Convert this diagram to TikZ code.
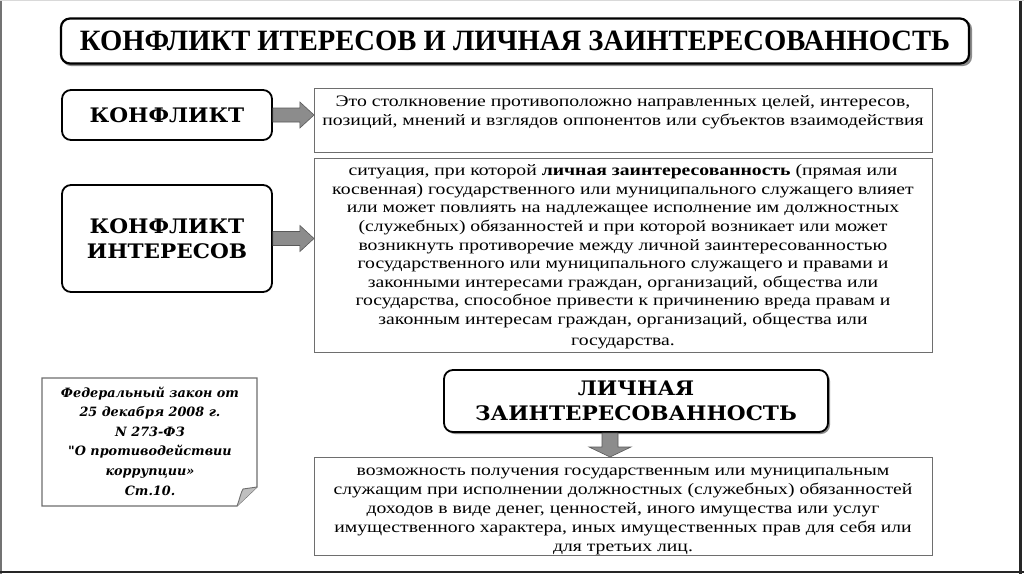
\documentclass[tikz,border=0pt]{standalone}
\usepackage{fontspec}
\setmainfont{Liberation Serif}
\newfontfamily\bodyf[FakeStretch=1.23]{Liberation Serif}
\newfontfamily\titlef[FakeStretch=0.97]{Liberation Serif}
\newfontfamily\labf[FakeStretch=1.08]{DejaVu Serif}
\newfontfamily\lawf{DejaVu Serif}
\usetikzlibrary{calc}
\definecolor{arrgray}{RGB}{140,140,140}
\definecolor{boxline}{RGB}{110,110,110}
\tikzset{
  x=1pt, y=-1pt,
  labelbox/.style={draw=black, line width=1.8pt, rounded corners=9pt, fill=white,
    align=center, inner sep=0pt, font=\labf\bfseries\fontsize{20}{25}\selectfont},
  textbox/.style={draw=boxline, line width=1.1pt, fill=white, align=center, inner sep=0pt,
    font=\bodyf\fontsize{16}{18.6}\selectfont},
  fatarrow/.style={fill=arrgray, draw=black!65, line width=0.6pt},
}
\begin{document}
\begin{tikzpicture}
\useasboundingbox (0,0) rectangle (1024,574);
\fill[white] (0,0) rectangle (1024,574);
% outer frame edges
\draw[black!55, line width=2pt] (1,0) -- (1,574);
\draw[black!85, line width=3pt] (1020,0) -- (1020,574);
\draw[black!85, line width=2.5pt] (0,572) -- (1024,572);
\draw[black!15, line width=1pt] (0,0.5) -- (1024,0.5);

% title
\fill[black!45, rounded corners=9pt] (62,20) rectangle (972,66);
\node[draw=black, line width=2.2pt, rounded corners=9pt, fill=white,
  minimum width=908pt, minimum height=45pt, inner sep=0pt,
  font=\titlef\bfseries\fontsize{29.5}{30}\selectfont] (title) at (515,41)
  {КОНФЛИКТ ИТЕРЕСОВ И ЛИЧНАЯ ЗАИНТЕРЕСОВАННОСТЬ};

% row 1
\node[labelbox, minimum width=210pt, minimum height=50pt] (k1) at (167,115) {КОНФЛИКТ};
\node[textbox, minimum width=618pt, minimum height=64pt, anchor=north west] (t1) at (314,88) {};
\node[textbox, anchor=north, draw=none, fill=none] (t1txt) at (623,95)
  {Это столкновение противоположно направленных целей, интересов,\\
   позиций, мнений и взглядов оппонентов или субъектов взаимодействия};

% row 2
\node[labelbox, minimum width=210pt, minimum height=107pt] (k2) at (167,238.5)
  {КОНФЛИКТ\\ИНТЕРЕСОВ};
\node[textbox, minimum width=618pt, minimum height=194pt, anchor=north west] (t2) at (314,158) {};
\node[textbox, anchor=north, draw=none, fill=none] (t2txt) at (623,164)
  {ситуация, при которой \textbf{личная заинтересованность} (прямая или\\
   косвенная) государственного или муниципального служащего влияет\\
   или может повлиять на надлежащее исполнение им должностных\\
   (служебных) обязанностей и при которой возникает или может\\
   возникнуть противоречие между личной заинтересованностью\\
   государственного или муниципального служащего и правами и\\
   законными интересами граждан, организаций, общества или\\
   государства, способное привести к причинению вреда правам и\\
   законным интересам граждан, организаций, общества или\\[2pt]
   государства.};

% law note
\coordinate (nA) at (42,378);
\coordinate (nB) at (257,378);
\coordinate (nC) at (257,487);
\coordinate (nD) at (237,506);
\coordinate (nE) at (42,506);
\draw[boxline, line width=1.1pt, fill=white] (nA) -- (nB) -- (nC) -- (nD) -- (nE) -- cycle;
\fill[black!25] (nD) .. controls (240,498) and (241,492) .. (243,489) -- (nC) -- cycle;
\draw[boxline, line width=0.9pt] (nD) .. controls (240,498) and (241,492) .. (243,489) -- (nC);
\node[align=center, inner sep=0pt, font=\lawf\bfseries\itshape\fontsize{12.8}{19.6}\selectfont]
  (law) at (150,441)
  {Федеральный закон от\\25 декабря 2008 г.\\N 273-ФЗ\\"О противодействии\\коррупции»\\Ст.10.};

% personal interest
\fill[black!45, rounded corners=9pt] (446,372) rectangle (830,434);
\node[labelbox, minimum width=384pt, minimum height=62pt] (k3) at (636,401)
  {ЛИЧНАЯ\\ЗАИНТЕРЕСОВАННОСТЬ};
\node[textbox, minimum width=618pt, minimum height=98pt, anchor=north west] (t3) at (314,457) {};
\node[textbox, anchor=north, draw=none, fill=none, font=\bodyf\fontsize{16}{19}\selectfont]
  (t3txt) at (623,467)
  {возможность получения государственным или муниципальным\\
   служащим при исполнении должностных (служебных) обязанностей\\
   доходов в виде денег, ценностей, иного имущества или услуг\\
   имущественного характера, иных имущественных прав для себя или\\
   для третьих лиц.};

% arrows
\draw[fatarrow] ($(k1.east)+(0,-7)$) -- ++(27,0) -- ++(0,-6) -- ($(k1.east -| t1.west)$)
  -- ($(k1.east)+(27,13)$) -- ++(0,-6) -- ($(k1.east)+(0,7)$) -- cycle;
\draw[fatarrow] ($(k2.east)+(0,-7)$) -- ++(27,0) -- ++(0,-6) -- ($(k2.east -| t2.west)$)
  -- ($(k2.east)+(27,13)$) -- ++(0,-6) -- ($(k2.east)+(0,7)$) -- cycle;
\coordinate (a3s) at (610,433);
\draw[fatarrow] ($(a3s)+(-8,0)$) -- ++(0,14) -- ++(-13,0) -- (a3s |- t3.north)
  -- ($(a3s)+(21,14)$) -- ++(-13,0) -- ($(a3s)+(8,0)$) -- cycle;
\end{tikzpicture}
\end{document}
